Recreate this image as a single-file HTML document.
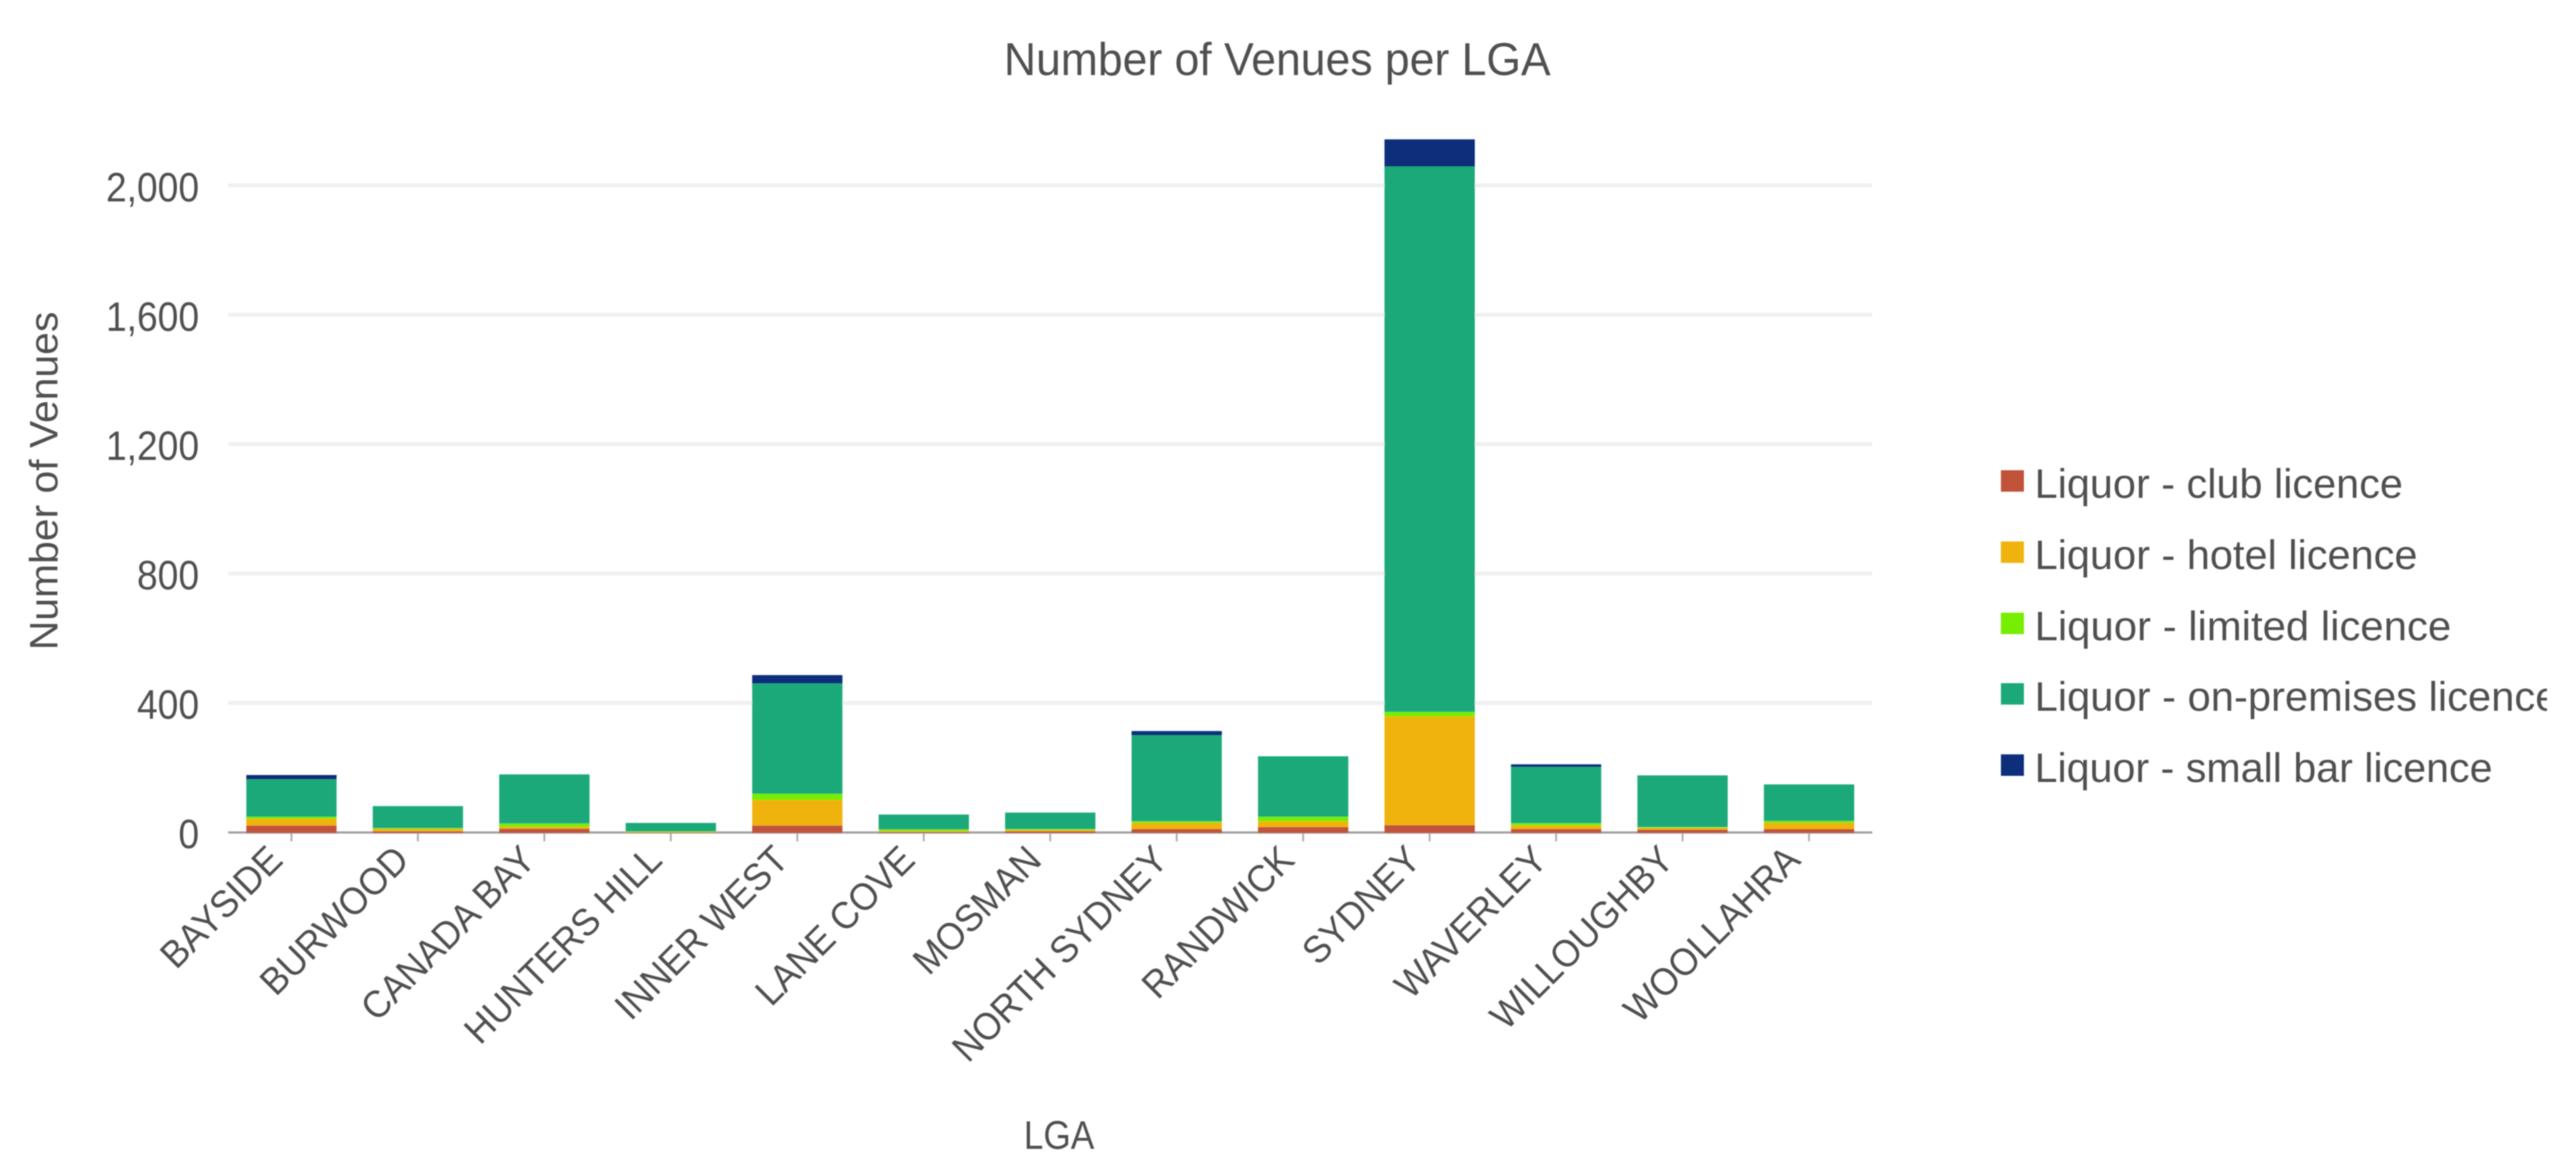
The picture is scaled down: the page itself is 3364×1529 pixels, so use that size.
<!DOCTYPE html>
<html lang="en">
<head>
<meta charset="utf-8">
<title>Number of Venues per LGA</title>
<style>
  html, body { margin: 0; padding: 0; background: #fff; }
  svg { display: block; }
  text { font-family: "Liberation Sans", sans-serif; fill: #505050; }
</style>
</head>
<body>
<svg id="chart" xmlns="http://www.w3.org/2000/svg" width="3364" height="1529" viewBox="0 0 3364 1529">
  <defs>
    <clipPath id="legend-clip"><rect x="2600" y="560" width="726" height="500"/></clipPath>
    <filter id="soft" x="-5%" y="-5%" width="110%" height="110%"><feGaussianBlur stdDeviation="0.7"/></filter>
  </defs>
  <rect x="0" y="0" width="3364" height="1529" fill="#ffffff"/>
  <g id="plot" filter="url(#soft)">
    <g id="grid"></g>
    <g id="y-labels"></g>
    <g id="x-ticks"></g>
    <line x1="298" x2="2445" y1="1087" y2="1087" stroke="#a0a0a0" stroke-width="3"/>
    <g id="bars"></g>
    <g id="x-labels"></g>
    <text x="1311" y="98" font-size="60" textLength="714" lengthAdjust="spacingAndGlyphs">Number of Venues per LGA</text>
    <text transform="translate(75,849) rotate(-90)" font-size="52" textLength="442" lengthAdjust="spacingAndGlyphs">Number of Venues</text>
    <text x="1337" y="1500" font-size="52" textLength="92" lengthAdjust="spacingAndGlyphs">LGA</text>
    <g clip-path="url(#legend-clip)">
      <rect x="2613" y="614" width="30" height="28" fill="#c1533b"/>
      <text x="2657" y="650" font-size="54" textLength="481" lengthAdjust="spacingAndGlyphs">Liquor - club licence</text>
      <rect x="2613" y="707" width="30" height="28" fill="#f0b30f"/>
      <text x="2657" y="743" font-size="54" textLength="500" lengthAdjust="spacingAndGlyphs">Liquor - hotel licence</text>
      <rect x="2613" y="800" width="30" height="28" fill="#76ee00"/>
      <text x="2657" y="836" font-size="54" textLength="544" lengthAdjust="spacingAndGlyphs">Liquor - limited licence</text>
      <rect x="2613" y="892" width="30" height="28" fill="#1ca97a"/>
      <text x="2657" y="928" font-size="54" textLength="684" lengthAdjust="spacingAndGlyphs">Liquor - on-premises licence</text>
      <rect x="2613" y="985" width="30" height="28" fill="#0c2d7a"/>
      <text x="2657" y="1021" font-size="54" textLength="598" lengthAdjust="spacingAndGlyphs">Liquor - small bar licence</text>
    </g>
  </g>
</svg>
<script>
const categories = ["BAYSIDE","BURWOOD","CANADA BAY","HUNTERS HILL","INNER WEST","LANE COVE","MOSMAN","NORTH SYDNEY","RANDWICK","SYDNEY","WAVERLEY","WILLOUGHBY","WOOLLAHRA"];
const clubValues     = [23, 5, 13, 1, 23, 3, 5, 12, 18, 24, 12, 10, 12];
const hotelValues    = [21, 7, 6, 2, 79, 3, 4, 19, 18, 336, 11, 6, 19];
const limitedValues  = [6, 3, 10, 2, 19, 5, 3, 5, 14, 14, 7, 2, 6];
const onPremValues   = [116, 68, 152, 26, 341, 46, 51, 266, 187, 1686, 174, 160, 113];
const smallBarValues = [13, 0, 0, 0, 26, 0, 0, 13, 0, 84, 8, 0, 0];
const seriesKeys = ["club", "hotel", "limited", "on-premises", "small-bar"];
const seriesColors = ["#c1533b", "#f0b30f", "#76ee00", "#1ca97a", "#0c2d7a"];
const yTicks = [0, 400, 800, 1200, 1600, 2000];
const yTickLabels = ["0", "400", "800", "1,200", "1,600", "2,000"];

const SVG_NS = "http://www.w3.org/2000/svg";
const plotLeft = 298, plotRight = 2445, yZero = 1087.6, pxPerUnit = 0.4224;
const band = (plotRight - plotLeft) / categories.length;
const barWidth = band * 0.714;
const yScale = v => yZero - v * pxPerUnit;
const xCenter = i => plotLeft + band * (i + 0.5);
const allSeries = [clubValues, hotelValues, limitedValues, onPremValues, smallBarValues];

function make(tag, attrs, parent) {
  const el = document.createElementNS(SVG_NS, tag);
  for (const k in attrs) el.setAttribute(k, attrs[k]);
  parent.appendChild(el);
  return el;
}

const gridG = document.getElementById("grid");
const yLabelG = document.getElementById("y-labels");
yTicks.forEach((t, i) => {
  if (t !== 0) {
    const gl = make("line", { x1: plotLeft, x2: plotRight, y1: yScale(t) - 0.8, y2: yScale(t) - 0.8, stroke: "#f0f0f0", "stroke-width": 5 }, gridG);
    
    
  }
  const lab = make("text", { x: 260, y: yScale(t) + 20, "font-size": 54, "text-anchor": "end" }, yLabelG);
  lab.textContent = yTickLabels[i];
  
  
  lab.setAttribute('transform', 'translate(' + (260 * 0.1) + ',0) scale(0.9,1)');
});

const tickG = document.getElementById("x-ticks");
const barG = document.getElementById("bars");
const xLabelG = document.getElementById("x-labels");
categories.forEach((name, i) => {
  const cx = xCenter(i);
  const tk = make("line", { x1: cx, x2: cx, y1: yZero, y2: yZero + 11, stroke: "#b0b0b0", "stroke-width": 2.5 }, tickG);
  
  

  let running = 0;
  allSeries.forEach((vals, s) => {
    const v = vals[i];
    if (v <= 0) return;
    const yTop = yScale(running + v);
    const yBot = yScale(running);
    const seg = make("rect", { x: cx - barWidth / 2, y: yTop, width: barWidth, height: yBot - yTop, fill: seriesColors[s] }, barG);
    
    
    running += v;
  });

  const lab = make("text", { "font-size": 50, "text-anchor": "end", transform: "translate(" + (cx - 9) + "," + (yZero + 38) + ") rotate(-45) scale(0.94,1)" }, xLabelG);
  lab.textContent = name;
  
  
});
</script>
</body>
</html>
